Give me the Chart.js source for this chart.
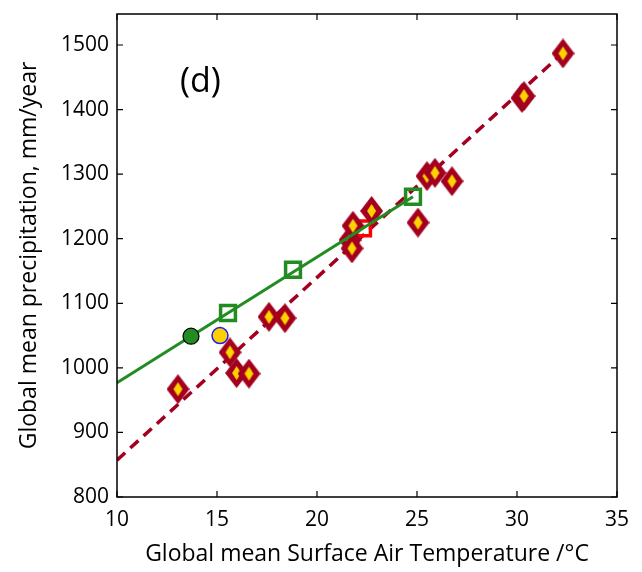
<!DOCTYPE html>
<html>
<head>
<meta charset="utf-8">
<script src="https://cdn.jsdelivr.net/npm/chart.js@4/dist/chart.umd.min.js"></script>
<style>
  html, body { margin: 0; padding: 0; background: #fff; }
  #wrap { width: 642px; height: 572px; }
</style>
</head>
<body>
<div id="wrap"><canvas id="precipChart"></canvas></div>
<script>
// model runs: global mean temperature (°C) vs precipitation (mm/year)
const runTemp   = [13.05, 15.65, 15.98, 16.6, 17.6, 18.4, 21.65, 21.75, 21.8, 22.73, 25.05, 25.5, 25.9, 26.75, 30.25, 30.35, 32.3];
const runPrecip = [967, 1024, 992, 991, 1079, 1077, 1198, 1185, 1220, 1243, 1225, 1297, 1302, 1289, 1418, 1421, 1487];

// second set of experiments (green squares) and their fit
const expTemp   = [15.55, 18.8, 24.8];
const expPrecip = [1085, 1152, 1265];
const expFitTemp   = [10, 24.8];
const expFitPrecip = [977, 1265];

// fit through the model runs
const runFitTemp   = [10, 32.3];
const runFitPrecip = [857, 1488];

// single reference points
const obsGreen  = { x: 13.7, y: 1049 };
const obsYellow = { x: 15.15, y: 1050 };
const redMark   = { x: 22.3, y: 1216 };

const xTicks = [10, 15, 20, 25, 30, 35];
const yTicks = [800, 900, 1000, 1100, 1200, 1300, 1400, 1500];

const darkRed = '#a3001f';
const green = '#228b22';
const font = "'Open Sans', 'DejaVu Sans', sans-serif";

const pairs = (xs, ys) => xs.map((x, i) => ({ x: x, y: ys[i] }));

// elongated rhombus marker with yellow centre
function rhombus() {
  const c = document.createElement('canvas');
  c.width = 23; c.height = 30;
  const g = c.getContext('2d');
  g.fillStyle = darkRed;
  g.beginPath(); g.moveTo(11.5, 0); g.lineTo(23, 15); g.lineTo(11.5, 30); g.lineTo(0, 15); g.closePath(); g.fill();
  g.fillStyle = '#ffd200';
  g.beginPath(); g.moveTo(11.5, 8); g.lineTo(16, 15); g.lineTo(11.5, 22); g.lineTo(7, 15); g.closePath(); g.fill();
  return c;
}

// inward ticks on all four sides plus the frame and panel letter
const frame = {
  id: 'frame',
  afterDraw(chart) {
    const { ctx, chartArea: a, scales } = chart;
    ctx.save();
    ctx.strokeStyle = '#000';
    ctx.lineWidth = 1.5;
    ctx.strokeRect(a.left, a.top, a.right - a.left, a.bottom - a.top);
    ctx.lineWidth = 1.2;
    ctx.beginPath();
    scales.x.ticks.forEach(t => {
      const px = scales.x.getPixelForValue(t.value);
      ctx.moveTo(px, a.bottom); ctx.lineTo(px, a.bottom - 6);
      ctx.moveTo(px, a.top); ctx.lineTo(px, a.top + 6);
    });
    scales.y.ticks.forEach(t => {
      const py = scales.y.getPixelForValue(t.value);
      ctx.moveTo(a.left, py); ctx.lineTo(a.left + 6, py);
      ctx.moveTo(a.right, py); ctx.lineTo(a.right - 6, py);
    });
    ctx.stroke();
    ctx.fillStyle = '#000';
    ctx.font = "34px " + font;
    ctx.textBaseline = 'middle';
    ctx.fillText('(d)', a.left + 63, a.top + 68);
    ctx.restore();
  }
};

new Chart(document.getElementById('precipChart'), {
  type: 'scatter',
  data: {
    datasets: [
      { data: [obsGreen], pointStyle: 'circle', pointRadius: 8, backgroundColor: green, borderColor: '#000', borderWidth: 1.2 },
      { data: [obsYellow], pointStyle: 'circle', pointRadius: 8, backgroundColor: '#ffd000', borderColor: '#1a1aff', borderWidth: 1.5 },
      { data: pairs(expTemp, expPrecip), pointStyle: 'rect', pointRadius: 10.5, backgroundColor: 'rgba(0,0,0,0)', borderColor: green, borderWidth: 3.5 },
      { data: pairs(expFitTemp, expFitPrecip), showLine: true, pointRadius: 0, borderColor: green, borderWidth: 3 },
      { data: pairs(runTemp, runPrecip), pointStyle: rhombus() },
      { data: [redMark], pointStyle: 'rect', pointRadius: 10.5, backgroundColor: 'rgba(0,0,0,0)', borderColor: '#ff0000', borderWidth: 3.5 },
      { data: pairs(runFitTemp, runFitPrecip), showLine: true, pointRadius: 0, borderColor: darkRed, borderWidth: 3.5, borderDash: [11, 7] }
    ]
  },
  options: {
    responsive: true,
    maintainAspectRatio: false,
    animation: false,
    events: [],
    layout: { padding: { top: 12, right: 25, left: 12, bottom: 0 } },
    plugins: { legend: { display: false }, tooltip: { enabled: false } },
    scales: {
      x: {
        type: 'linear', min: 10, max: 35,
        afterBuildTicks: s => { s.ticks = xTicks.map(v => ({ value: v })); },
        afterFit: s => { s.height = 75; s.paddingLeft = 0; s.paddingRight = 0; },
        grid: { display: false, drawTicks: false },
        border: { display: false },
        ticks: { color: '#000', padding: 10, font: { family: font, size: 21 }, callback: v => String(v) },
        title: { display: true, text: 'Global mean Surface Air Temperature /°C', color: '#000', padding: { top: 4 }, font: { family: font, size: 23 } }
      },
      y: {
        type: 'linear', min: 800, max: 1548,
        afterBuildTicks: s => { s.ticks = yTicks.map(v => ({ value: v })); },
        afterFit: s => { s.width = 105; s.paddingTop = 0; s.paddingBottom = 0; },
        grid: { display: false, drawTicks: false },
        border: { display: false },
        ticks: { color: '#000', padding: 8, font: { family: font, size: 21 }, callback: v => String(v) },
        title: { display: true, text: 'Global mean precipitation, mm/year', color: '#000', padding: { bottom: 4 }, font: { family: font, size: 23 } }
      }
    }
  },
  plugins: [frame]
});
</script>
</body>
</html>
